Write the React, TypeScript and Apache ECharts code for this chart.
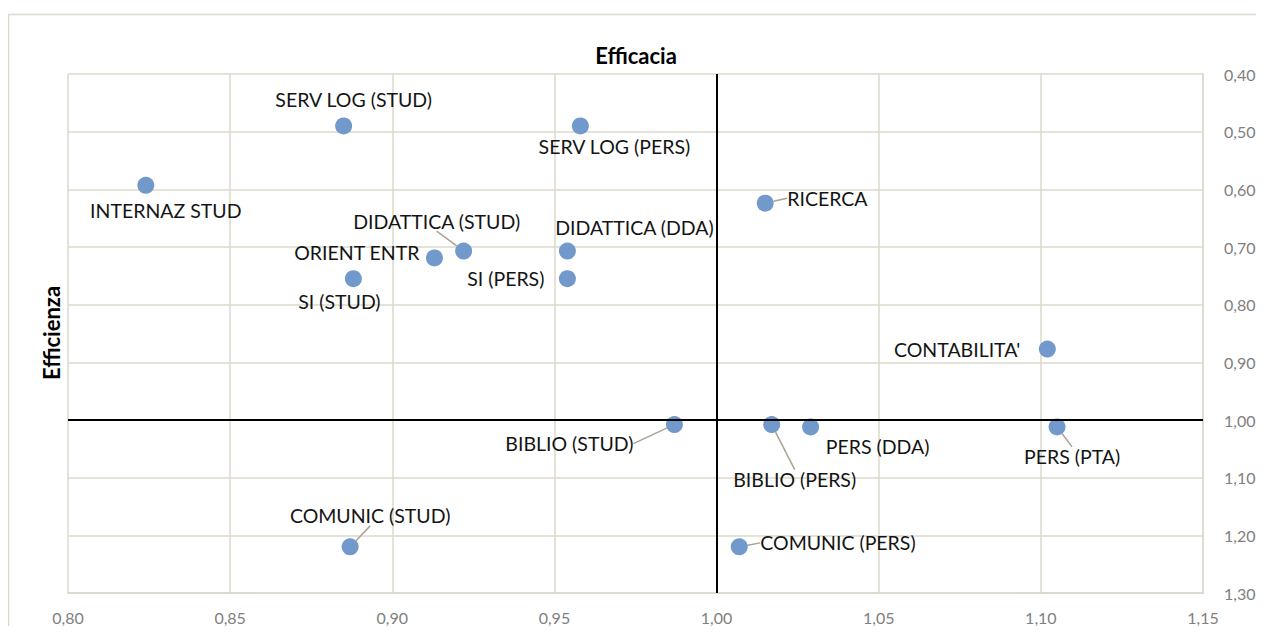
import React, { useEffect, useRef } from "react";
import * as echarts from "echarts";

const names = [
  "SERV LOG (STUD)",
  "SERV LOG (PERS)",
  "INTERNAZ STUD",
  "RICERCA",
  "DIDATTICA (STUD)",
  "ORIENT ENTR",
  "DIDATTICA (DDA)",
  "SI (PERS)",
  "SI (STUD)",
  "CONTABILITA'",
  "BIBLIO (STUD)",
  "BIBLIO (PERS)",
  "PERS (DDA)",
  "PERS (PTA)",
  "COMUNIC (STUD)",
  "COMUNIC (PERS)",
];
const efficacia = [0.885, 0.958, 0.824, 1.015, 0.922, 0.913, 0.954, 0.954, 0.888, 1.102, 0.987, 1.017, 1.029, 1.105, 0.887, 1.007];
const efficienza = [0.49, 0.49, 0.593, 0.624, 0.707, 0.719, 0.707, 0.755, 0.755, 0.877, 1.008, 1.008, 1.012, 1.012, 1.22, 1.22];
const xTicks = { min: 0.8, max: 1.15, interval: 0.05 };
const yTicks = { min: 0.4, max: 1.3, interval: 0.1 };
const refX = 1.0;
const refY = 1.0;

// label placement (layout, not data): [dx, dy, align, showLeader]
const labelPlacement: [number, number, string, boolean][] = [
  [10, -26, "center", false],
  [34, 21, "center", false],
  [20, 25, "center", false],
  [22, -5, "left", true],
  [-27, -30, "center", true],
  [-15, -5, "right", false],
  [67, -24, "center", false],
  [-23, 0, "right", false],
  [-14, 23, "center", false],
  [-27, 0, "right", false],
  [-41, 19, "right", true],
  [23, 55, "center", true],
  [67, 20, "center", false],
  [15, 30, "center", true],
  [20, -31, "center", true],
  [21, -4, "left", true],
];

const FONT = "Lato";
const GRID = "#ddd8cb";
const AXIS_TEXT = "#808080";

const fmt = (v: number) => v.toFixed(2).replace(".", ",");

export default function App() {
  const ref = useRef<HTMLDivElement>(null);
  useEffect(() => {
    if (!ref.current) return;
    const chart = echarts.init(ref.current, null, { renderer: "svg" });
    const data = names.map((n, i) => ({
      name: n,
      value: [efficacia[i], efficienza[i]],
      labelLine: { show: labelPlacement[i][3] },
    }));
    chart.setOption({
      animation: false,
      textStyle: { fontFamily: FONT },
      grid: { left: 60, right: 61, top: 66, bottom: 33, containLabel: false },
      graphic: [
        {
          type: "rect",
          shape: { x: 0.5, y: 6.5, width: 3000, height: 3000 },
          style: { fill: "none", stroke: GRID, lineWidth: 1.5 },
          silent: true,
        },
        {
          type: "text",
          x: 628,
          y: 47,
          style: {
            text: "Efficacia",
            font: `bold 22px ${FONT}`,
            fill: "#000",
            align: "center",
            verticalAlign: "middle",
          },
        },
        {
          type: "text",
          x: 43,
          y: 325,
          rotation: Math.PI / 2,
          style: {
            text: "Efficienza",
            font: `bold 22px ${FONT}`,
            fill: "#000",
            align: "center",
            verticalAlign: "middle",
          },
        },
      ],
      xAxis: {
        type: "value",
        min: xTicks.min,
        max: xTicks.max,
        interval: xTicks.interval,
        axisLine: { show: true, lineStyle: { color: GRID, width: 1.5 } },
        axisTick: { show: false },
        splitLine: { show: true, lineStyle: { color: GRID, width: 1.5 } },
        axisLabel: { color: AXIS_TEXT, fontSize: 16, margin: 16, formatter: fmt, fontFamily: FONT },
      },
      yAxis: {
        type: "value",
        position: "right",
        inverse: true,
        min: yTicks.min,
        max: yTicks.max,
        interval: yTicks.interval,
        axisLine: { show: true, lineStyle: { color: GRID, width: 1.5 } },
        axisTick: { show: false },
        splitLine: { show: true, lineStyle: { color: GRID, width: 1.5 } },
        axisLabel: { color: AXIS_TEXT, fontSize: 16, margin: 21, formatter: fmt, fontFamily: FONT },
      },
      series: [
        {
          type: "scatter",
          symbolSize: 17,
          itemStyle: { color: "#7199cb", opacity: 1 },
          data,
          label: {
            show: true,
            position: "inside",
            formatter: "{b}",
            color: "#141414",
            fontSize: 19.5,
            fontFamily: FONT,
          },
          labelLine: { show: false, lineStyle: { color: "#a8a394", width: 1.5 } },
          labelLayout: (p: any) => {
            const [dx, dy, align] = labelPlacement[p.dataIndex];
            const cx = p.rect.x + p.rect.width / 2;
            const cy = p.rect.y + p.rect.height / 2;
            return { x: cx + dx, y: cy + dy, align, verticalAlign: "middle" };
          },
          markLine: {
            silent: true,
            symbol: "none",
            label: { show: false },
            lineStyle: { color: "#000", width: 2, type: "solid" },
            data: [{ xAxis: refX }, { yAxis: refY }],
          },
          z: 3,
        },
      ],
    });
    return () => chart.dispose();
  }, []);
  return <div ref={ref} style={{ width: 1256, height: 618 }} />;
}
